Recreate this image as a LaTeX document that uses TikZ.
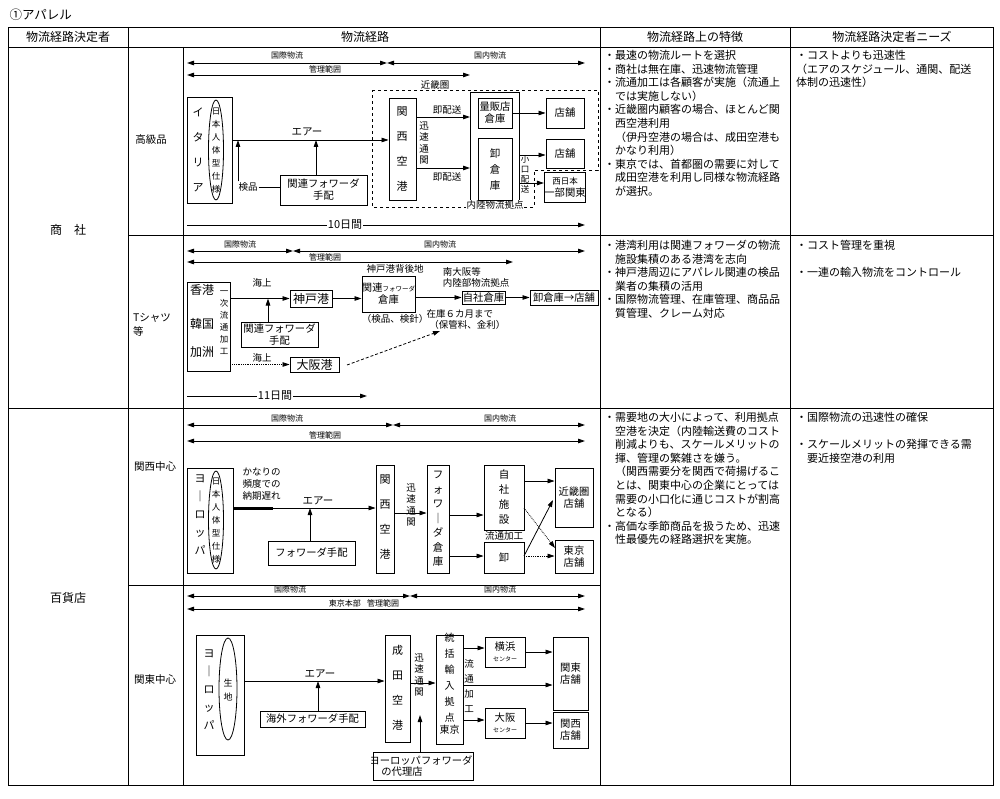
\documentclass[tikz,border=0pt]{standalone}
\usepackage{fontspec}
\setmainfont{Noto Sans CJK JP}
\usetikzlibrary{arrows.meta}
\newcommand\bx[6]{\node[box,minimum width={(#4-#2)*1pt},minimum height={(#5-#3)*1pt}] (#1) at ({(#2+#4)/2},{(#3+#5)/2}) {#6};}
\newcommand\fs[2]{\fontsize{#1}{#2}\selectfont}
\begin{document}
\begin{tikzpicture}[x=1pt,y=-1pt,
  box/.style={draw,line width=0.9pt,inner sep=0pt,align=center,font=\fs{10.3}{12}},
  tbl/.style={line width=0.8pt},
  arr/.style={line width=0.8pt,-{Triangle[length=7pt,width=4.5pt]}},
  dbl/.style={line width=0.8pt,{Triangle[length=7pt,width=4.5pt]}-{Triangle[length=7pt,width=4.5pt]}},
  sm/.style={font=\fs{8}{9},inner sep=0.5pt},
  lb/.style={font=\fs{9.5}{11},inner sep=0.5pt,align=center},
  vt/.style={align=center,inner sep=0pt},
  txt/.style={anchor=north west,align=left,inner sep=0pt,font=\fs{11}{13.6}},
  hd/.style={font=\fs{12}{13}}]
\useasboundingbox (0,0) rectangle (1000,799);
% ---------- table ----------
\node[anchor=west,font=\fs{12.5}{13}] (title) at (6,15) {①アパレル};
\draw[tbl] (8,27) rectangle (993,785);
\draw[tbl] (8,47) -- (993,47);
\draw[tbl] (128,27) -- (128,785);
\draw[tbl] (183,47) -- (183,785);
\draw[tbl] (600,27) -- (600,785);
\draw[tbl] (790,27) -- (790,785);
\draw[tbl] (128,235) -- (993,235);
\draw[tbl] (8,408) -- (993,408);
\draw[tbl] (128,585) -- (600,585);
\node[hd] (h1) at (68,37) {物流経路決定者};
\node[hd] (h2) at (365,37) {物流経路};
\node[hd] (h3) at (695,37) {物流経路上の特徴};
\node[hd] (h4) at (892,37) {物流経路決定者ニーズ};
\node[hd] (shosha) at (68,230) {商\hspace{1em}社};
\node[hd] (hyakka) at (68,598) {百貨店};
\node[lb,font=\fs{10.5}{12}] (koukyu) at (151,140) {高級品};
\node[lb,font=\fs{10.5}{14},align=left] (tshirt) at (152,325) {Tシャツ\\等};
\node[lb,font=\fs{10.5}{12}] (kansai) at (155,467) {関西中心};
\node[lb,font=\fs{10.5}{12}] (kanto) at (155,680) {関東中心};
% ---------- right columns ----------
\node[txt] (t1) at (604,50) {・最速の物流ルートを選択\\・商社は無在庫、迅速物流管理\\・流通加工は各顧客が実施（流通上\\\hspace*{1em}では実施しない）\\・近畿圏内顧客の場合、ほとんど関\\\hspace*{1em}西空港利用\\\hspace*{1em}（伊丹空港の場合は、成田空港も\\\hspace*{1em}かなり利用）\\・東京では、首都圏の需要に対して\\\hspace*{1em}成田空港を利用し同様な物流経路\\\hspace*{1em}が選択。};
\node[txt] (n1) at (796,50) {・コストよりも迅速性\\（エアのスケジュール、通関、配送\\体制の迅速性）};
\node[txt] (t2) at (604,240) {・港湾利用は関連フォワーダの物流\\\hspace*{1em}施設集積のある港湾を志向\\・神戸港周辺にアパレル関連の検品\\\hspace*{1em}業者の集積の活用\\・国際物流管理、在庫管理、商品品\\\hspace*{1em}質管理、クレーム対応};
\node[txt] (n2) at (796,240) {・コスト管理を重視\\[13.6pt]・一連の輸入物流をコントロール};
\node[txt] (t3) at (604,412) {・需要地の大小によって、利用拠点\\\hspace*{1em}空港を決定（内陸輸送費のコスト\\\hspace*{1em}削減よりも、スケールメリットの\\\hspace*{1em}揮、管理の繁雑さを嫌う。\\\hspace*{1em}（関西需要分を関西で荷揚げるこ\\\hspace*{1em}とは、関東中心の企業にとっては\\\hspace*{1em}需要の小口化に通じコストが割高\\\hspace*{1em}となる）\\・高価な季節商品を扱うため、迅速\\\hspace*{1em}性最優先の経路選択を実施。};
\node[txt] (n3) at (796,412) {・国際物流の迅速性の確保\\[13.6pt]・スケールメリットの発揮できる需\\\hspace*{1em}要近接空港の利用};
% ---------- panel 1 ----------
\draw[dbl] (187,63) -- (387,63);
\draw[dbl] (387,63) -- (585,63);
\node[sm] (p1a) at (287,55) {国際物流};
\node[sm] (p1b) at (490,55) {国内物流};
\draw[dbl] (187,75) -- (470,75);
\node[sm] (p1c) at (325,69) {管理範囲};
\draw[dashed,line width=0.8pt] (372,90) -- (598,90) -- (598,170) -- (534,170) -- (534,207) -- (372,207) -- cycle;
\node[lb] (kinki) at (435,85) {近畿圏};
\bx{ita}{187}{97}{232}{203}{}
\node[vt,font=\fs{11}{25}] at (198,150) {イ\\タ\\リ\\ア};
\draw[line width=0.8pt] (216,150) ellipse (7.5 and 50);
\node[vt,font=\fs{8.5}{13}] at (216,151) {日\\本\\人\\体\\型\\仕\\様};
\bx{fw1}{280}{175}{367}{205}{関連フォワーダ\\手配}
\node[lb,inner sep=1pt] (kenpin) at (248,187) {検品};
\draw[line width=0.8pt] (kenpin.east) -- (fw1.west |- kenpin);
\bx{kix1}{389}{98}{416}{200}{}
\node[vt,font=\fs{11}{25}] at (402,149) {関\\西\\空\\港};
\draw[arr] (ita.east |- 0,140) -- (kix1.west |- 0,140);
\node[lb,font=\fs{10.5}{12}] at (307,132) {エアー};
\draw[arr] (kenpin.north -| 238,0) -- (238,140);
\draw[arr] (fw1.north -| 316,0) -- (316,140);
\node[vt,font=\fs{9.5}{11.5}] at (424,143) {迅\\速\\通\\関};
\draw[line width=0.8pt] (470,92) rectangle (519,203);
\node[lb,fill=white,inner sep=0.5pt] (nairiku) at (495,205) {内陸物流拠点};
\bx{ryo}{478}{98}{512}{128}{量販店\\倉庫}
\bx{oroshi1}{478}{138}{512}{200}{}
\node[vt,font=\fs{10.5}{16}] at (495,169) {卸\\倉\\庫};
\draw[arr] (kix1.east |- 0,117) -- (470,117);
\draw[arr] (kix1.east |- 0,168) -- (470,168);
\node[lb] at (447,110) {即配送};
\node[lb] at (447,177) {即配送};
\bx{ten1}{546}{98}{584}{128}{店舗}
\bx{ten2}{546}{139}{584}{168}{店舗}
\bx{nishi}{546}{172}{584}{202}{\fs{8.5}{10}西日本\\一部関東}
\draw[arr] (ryo.east |- ten1) -- (ten1.west);
\draw[arr] (519,155) -- (ten2.west |- 0,155);
\draw[arr] (519,183) -- (nishi.west |- 0,183);
\node[vt,font=\fs{8.5}{10}] at (525,174) {小\\口\\配\\送};
\draw[arr] (187,225) -- (585,225);
\node[lb,fill=white,font=\fs{11}{12}] (d10) at (345,225) {10日間};
% ---------- panel 2 ----------
\draw[dbl] (187,251) -- (293,251);
\draw[dbl] (293,251) -- (585,251);
\node[sm] at (240,244) {国際物流};
\node[sm] at (440,244) {国内物流};
\draw[dbl] (187,262) -- (513,262);
\node[sm] at (325,257) {管理範囲};
\bx{src}{187}{282}{230}{371}{}
\node[lb,font=\fs{12}{13}] at (202,290) {香港};
\node[lb,font=\fs{12}{13}] at (202,324) {韓国};
\node[lb,font=\fs{12}{13}] at (202,352) {加洲};
\node[vt,font=\fs{8.5}{12}] at (224,323) {一\\次\\流\\通\\加\\工};
\bx{kobe}{290}{290}{332}{307}{\fs{12}{13}神戸港}
\bx{fw2}{241}{322}{318}{347}{関連フォワーダ\\手配}
\draw[arr] (src.east |- kobe) -- (kobe.west);
\node[lb] at (262,283) {海上};
\draw[arr] (fw2.north -| 268,0) -- (268,298.5);
\bx{fwh}{362}{276}{415}{312}{関連{\fs{6.5}{8}フォワーダ}\\倉庫}
\node[lb] at (395,269) {神戸港背後地};
\node[lb] at (395,319) {（検品、検針）};
\draw[arr] (kobe.east) -- (fwh.west |- kobe);
\bx{jisha}{462}{291}{505}{304}{自社倉庫}
\node[lb,align=left] at (476,277) {南大阪等\\内陸部物流拠点};
\node[lb,align=left] at (466,319) {在庫６カ月まで\\\hspace*{0.3em}（保管料、金利）};
\draw[arr] (fwh.east |- jisha) -- (jisha.west);
\bx{tenpo2}{530}{290}{598}{305}{卸倉庫→店舗}
\draw[arr] (jisha.east) -- (tenpo2.west);
\bx{osaka}{290}{357}{339}{372}{\fs{12}{13}大阪港}
\draw[arr,densely dotted] (src.east |- osaka) -- (osaka.west);
\node[lb] at (262,358) {海上};
\draw[arr,densely dashed] (347,365) -- (440,331);
\draw[arr] (187,396) -- (367,396);
\node[lb,fill=white,font=\fs{11}{12}] at (275,396) {11日間};
% ---------- panel 3 ----------
\draw[dbl] (187,425) -- (393,425);
\draw[dbl] (393,425) -- (585,425);
\node[sm] at (287,418) {国際物流};
\node[sm] at (500,418) {国内物流};
\draw[dbl] (187,441) -- (585,441);
\node[sm] at (325,435) {管理範囲};
\bx{eu1}{187}{468}{233}{573}{}
\node[vt,font=\fs{11}{18}] at (200,515) {ヨ\\｜\\ロ\\ッ\\パ};
\draw[line width=0.8pt] (216,520) ellipse (7.5 and 49);
\node[vt,font=\fs{8.5}{13}] at (216,521) {日\\本\\人\\体\\型\\仕\\様};
\node[lb,align=left,anchor=north west,font=\fs{9.5}{12}] at (242,467) {かなりの\\頻度での\\納期遅れ};
\bx{kix2}{376}{465}{394}{573}{}
\node[vt,font=\fs{11}{25}] at (385,517) {関\\西\\空\\港};
\draw[line width=3pt] (eu1.east |- 0,508) -- (273,508);
\draw[arr] (273,508) -- (kix2.west |- 0,508);
\node[lb,font=\fs{10.5}{12}] at (318,501) {エアー};
\bx{fw3}{268}{541}{355}{565}{フォワーダ手配}
\draw[arr] (fw3.north -| 310,0) -- (310,508);
\node[vt,font=\fs{9.5}{11.5}] at (411,505) {迅\\速\\通\\関};
\bx{fwh3}{427}{465}{449}{573}{}
\node[vt,font=\fs{10.5}{14.5}] at (438,519) {フ\\ォ\\ワ\\｜\\ダ\\倉\\庫};
\draw[arr] (kix2.east |- 0,513) -- (fwh3.west |- 0,513);
\bx{jsh}{484}{465}{524}{530}{}
\node[vt,font=\fs{10.5}{15}] at (504,497) {自\\社\\施\\設};
\node[lb] at (504,536) {流通加工};
\bx{osh3}{484}{542}{524}{573}{卸}
\draw[arr] (fwh3.east |- 0,515) -- (jsh.west |- 0,515);
\draw[arr] (fwh3.east |- 0,556) -- (osh3.west |- 0,556);
\bx{kinkiten}{555}{468}{593}{527}{近畿圏\\店舗}
\bx{tokyoten}{555}{540}{593}{573}{東京\\店舗}
\draw[arr] (jsh.east |- 0,481) -- (kinkiten.west |- 0,481);
\draw[arr,densely dotted] (524,508) -- (555,548);
\draw[arr] (524,556) -- (553,500);
\draw[arr,densely dotted] (524,556) -- (tokyoten.west |- 0,556);
% ---------- panel 4 ----------
\draw[dbl] (187,596) -- (410,596);
\draw[dbl] (410,596) -- (585,596);
\node[sm] at (290,589) {国際物流};
\node[sm] at (500,589) {国内物流};
\draw[dbl] (187,609) -- (585,609);
\node[sm] at (364,603) {東京本部\hspace{0.8em}管理範囲};
\bx{eu2}{196}{635}{244}{755}{}
\node[vt,font=\fs{11}{18}] at (209,690) {ヨ\\｜\\ロ\\ッ\\パ};
\draw[line width=0.8pt] (228,689) ellipse (9 and 51);
\node[vt,font=\fs{9}{14}] at (228,690) {生\\地};
\bx{nrt}{385}{635}{410}{742}{}
\node[vt,font=\fs{11}{25}] at (397.5,688) {成\\田\\空\\港};
\draw[arr] (eu2.east |- 0,681) -- (nrt.west |- 0,681);
\node[lb,font=\fs{10.5}{12}] at (320,674) {エアー};
\bx{fw4}{260}{711}{365}{727}{海外フォワーダ手配}
\draw[arr] (fw4.north -| 318,0) -- (318,681);
\node[vt,font=\fs{9.5}{11.5}] at (419,675) {迅\\速\\通\\関};
\bx{tokatsu}{436}{635}{463}{744}{}
\node[vt,font=\fs{10}{16}] at (449.5,684) {統\\括\\輸\\入\\拠\\点\\[-4pt]東京};
\draw[arr] (nrt.east |- 0,683) -- (tokatsu.west |- 0,683);
\bx{agent}{373}{752}{473}{780}{\hspace*{-4pt}ヨーロッパフォワーダ\\[-1pt]\hspace*{-42pt}の代理店}
\draw[arr] (agent.north -| 420,0) -- (420,715);
\node[vt,font=\fs{9.5}{15}] at (469,686) {流\\通\\加\\工};
\bx{yoko}{485}{637}{525}{667}{横浜\\[-1pt]{\fs{6}{7}センター}}
\bx{osk}{485}{708}{525}{738}{大阪\\[-1pt]{\fs{6}{7}センター}}
\bx{kantoten}{553}{637}{588}{710}{関東\\店舗}
\bx{kansaiten}{553}{712}{588}{748}{関西\\店舗}
\draw[arr] (tokatsu.east |- 0,648) -- (yoko.west |- 0,648);
\draw[arr] (tokatsu.east |- 0,720) -- (osk.west |- 0,720);
\draw[arr] (tokatsu.east |- 0,685) -- (kantoten.west |- 0,685);
\draw[arr] (yoko.east |- 0,652) -- (kantoten.west |- 0,652);
\draw[arr] (osk.east |- 0,723) -- (kansaiten.west |- 0,723);
\end{tikzpicture}
\end{document}
